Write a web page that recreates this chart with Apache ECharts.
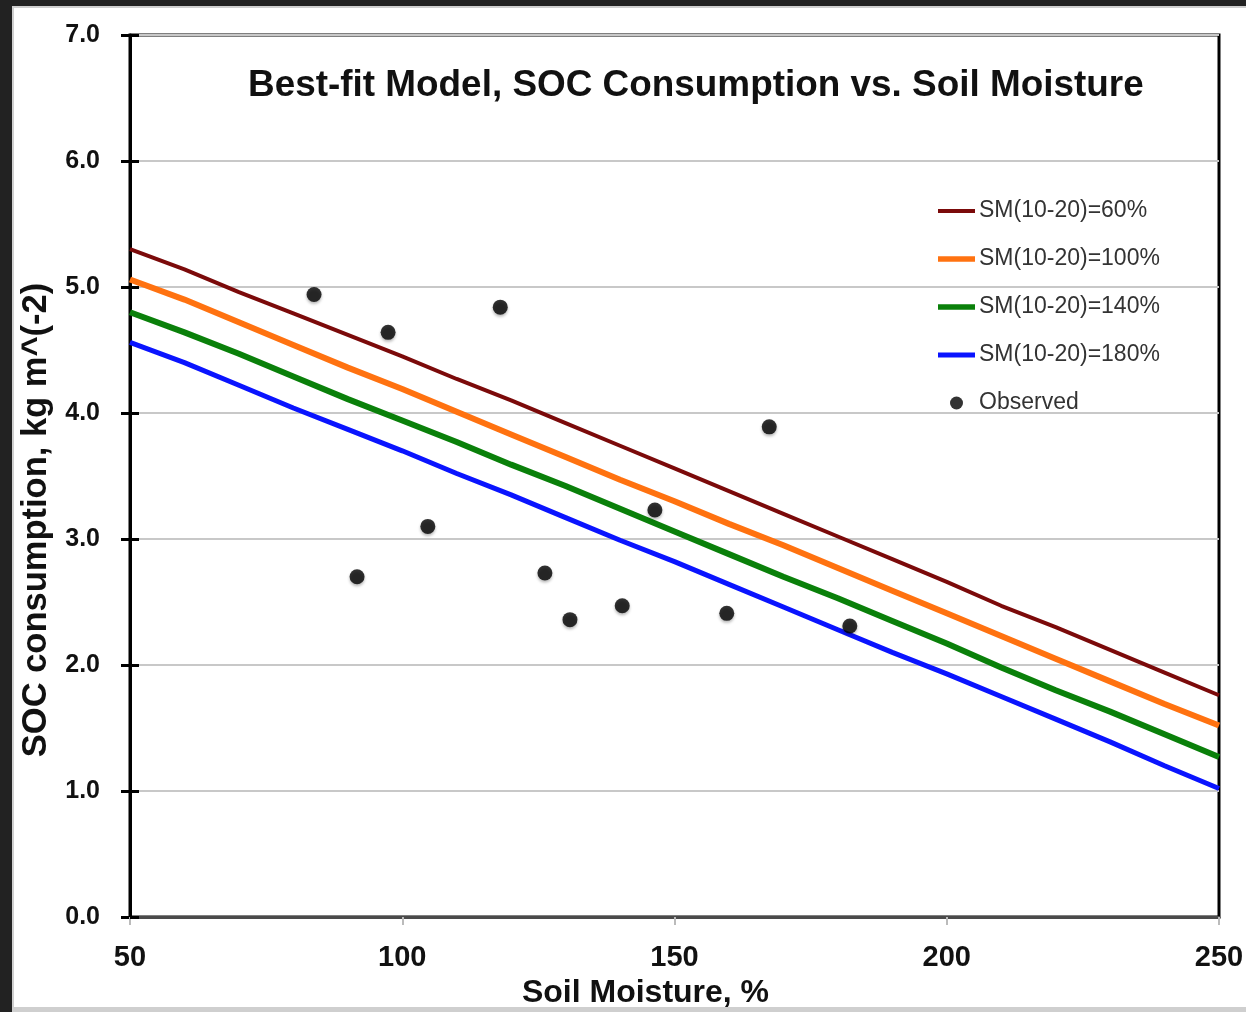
<!DOCTYPE html>
<html>
<head>
<meta charset="utf-8">
<script src="https://cdn.jsdelivr.net/npm/echarts@6/dist/echarts.min.js"></script>
<style>html,body{margin:0;padding:0;background:#222;}#c{width:1246px;height:1012px;}</style>
</head>
<body>
<div id="c"></div>
<script>
// ---- data ----
const xValues = [50, 60, 70, 80, 90, 100, 110, 120, 130, 140, 150, 160, 170, 180, 190, 200, 210, 220, 230, 240, 250];
const sm60  = [5.30, 5.14, 4.96, 4.79, 4.62, 4.45, 4.27, 4.10, 3.92, 3.74, 3.56, 3.38, 3.20, 3.02, 2.84, 2.66, 2.47, 2.30, 2.12, 1.94, 1.76];
const sm100 = [5.06, 4.90, 4.72, 4.54, 4.36, 4.19, 4.01, 3.83, 3.65, 3.47, 3.30, 3.12, 2.95, 2.77, 2.59, 2.41, 2.23, 2.05, 1.87, 1.69, 1.52];
const sm140 = [4.80, 4.64, 4.47, 4.29, 4.11, 3.94, 3.77, 3.59, 3.42, 3.24, 3.06, 2.88, 2.70, 2.53, 2.35, 2.17, 1.98, 1.80, 1.63, 1.45, 1.27];
const sm180 = [4.56, 4.40, 4.22, 4.04, 3.87, 3.70, 3.52, 3.35, 3.17, 2.99, 2.82, 2.64, 2.46, 2.28, 2.10, 1.93, 1.75, 1.57, 1.39, 1.20, 1.02];
const observedX = [83.8, 91.7, 97.4, 104.7, 118.0, 126.2, 130.8, 140.4, 146.4, 159.6, 167.4, 182.2];
const observedY = [4.94, 2.70, 4.64, 3.10, 4.84, 2.73, 2.36, 2.47, 3.23, 2.41, 3.89, 2.31];
const seriesNames = ['SM(10-20)=60%', 'SM(10-20)=100%', 'SM(10-20)=140%', 'SM(10-20)=180%', 'Observed'];
const yTicks = ['0.0', '1.0', '2.0', '3.0', '4.0', '5.0', '6.0', '7.0'];

const zip = (xs, ys) => xs.map((x, i) => [x, ys[i]]);
const FONT = 'Liberation Sans, Arial, sans-serif';

const chart = echarts.init(document.getElementById('c'), null, {renderer: 'canvas'});
const lineSeries = (name, data, color, width) => ({
  name, type: 'line', data: zip(xValues, data), symbol: 'none', smooth: false,
  lineStyle: {color, width}, itemStyle: {color}, z: 3
});
const barIcon = (h) => 'path://M0,0 L37,0 L37,' + h + ' L0,' + h + ' Z';

chart.setOption({
  backgroundColor: '#222222',
  animation: false,
  graphic: [
    {type: 'rect', z: -100, silent: true, shape: {x: 12, y: 6, width: 1240, height: 1010}, style: {fill: '#cfcfcf'}},
    {type: 'rect', z: -99, silent: true, shape: {x: 14, y: 8, width: 1236, height: 999}, style: {fill: '#ffffff'}}
  ],
  title: {
    text: 'Best-fit Model, SOC Consumption vs. Soil Moisture',
    left: 243, top: 62,
    textStyle: {fontFamily: FONT, fontWeight: 'bold', fontSize: 36.9, color: '#111'}
  },
  legend: {
    orient: 'vertical', left: 933, top: 194,
    itemWidth: 37, itemHeight: 13, itemGap: 24, symbolKeepAspect: true,
    data: [
      {name: seriesNames[0], icon: barIcon(4)},
      {name: seriesNames[1], icon: barIcon(5.5)},
      {name: seriesNames[2], icon: barIcon(5.5)},
      {name: seriesNames[3], icon: barIcon(5)},
      {name: seriesNames[4], icon: 'circle'}
    ],
    textStyle: {fontFamily: FONT, fontSize: 23, color: '#333', lineHeight: 24, padding: [0, 0, 0, -1]}
  },
  grid: [
    {left: 130, right: 27, top: 35, bottom: 95, containLabel: false, outerBoundsMode: 'none',
      show: true, borderColor: '#000', borderWidth: 3, backgroundColor: 'transparent'},
    // thin strip just inside the left axis: its split lines form the inner halves of the y ticks
    {left: 130, width: 9, top: 35, bottom: 95, containLabel: false, outerBoundsMode: 'none'}
  ],
  xAxis: [{
    type: 'value', min: 50, max: 250, interval: 50, position: 'bottom', gridIndex: 0,
    name: 'Soil Moisture, %', nameLocation: 'middle', nameGap: 48,
    nameTextStyle: {fontFamily: FONT, fontWeight: 'bold', fontSize: 32, color: '#111', padding: [0, 58, 0, 0]},
    axisLine: {show: true, lineStyle: {color: '#4a4a4a', width: 3}},
    axisTick: {show: true, length: 8, lineStyle: {color: '#bbb', width: 2}},
    axisLabel: {margin: 26, fontFamily: FONT, fontWeight: 'bold', fontSize: 29, color: '#111'},
    splitLine: {show: false}
  }, {
    type: 'value', min: 0, max: 1, gridIndex: 1,
    axisLine: {show: false}, axisTick: {show: false}, axisLabel: {show: false}, splitLine: {show: false}
  }],
  yAxis: [{
    type: 'value', min: 0, max: 7, interval: 1, position: 'left', gridIndex: 0,
    name: 'SOC consumption, kg m^(-2)', nameLocation: 'middle', nameGap: 75, nameRotate: 90,
    nameTextStyle: {fontFamily: FONT, fontWeight: 'bold', fontSize: 34.5, color: '#111', padding: [0, 88, 0, 0]},
    axisLine: {show: true, lineStyle: {color: '#000', width: 3}},
    axisTick: {show: true, length: 9, inside: false, lineStyle: {color: '#000', width: 3}},
    axisLabel: {margin: 30, fontFamily: FONT, fontWeight: 'bold', fontSize: 25, color: '#111',
      padding: [7, 0, 0, 0],
      formatter: (v) => yTicks[Math.round(v)]},
    splitLine: {show: true, lineStyle: {color: '#c8c8c8', width: 2}}
  }, {
    type: 'value', min: 0, max: 7, interval: 1, gridIndex: 1, z: 5,
    axisLine: {show: false}, axisTick: {show: false}, axisLabel: {show: false},
    splitLine: {show: true, lineStyle: {color: '#000', width: 3}}
  }],
  series: [
    lineSeries(seriesNames[0], sm60, '#7b0a0a', 4),
    lineSeries(seriesNames[1], sm100, '#ff7210', 6),
    lineSeries(seriesNames[2], sm140, '#0a800a', 6),
    lineSeries(seriesNames[3], sm180, '#0a14ff', 5),
    {
      name: seriesNames[4], type: 'scatter', data: zip(observedX, observedY),
      symbol: 'circle', symbolSize: 15, z: 4,
      itemStyle: {color: '#000', shadowBlur: 3, shadowColor: 'rgba(0,0,0,0.35)', shadowOffsetY: 2}
    },
    {name: 'tickStrip', type: 'line', xAxisIndex: 1, yAxisIndex: 1, data: [], silent: true}
  ]
});
</script>
</body>
</html>
